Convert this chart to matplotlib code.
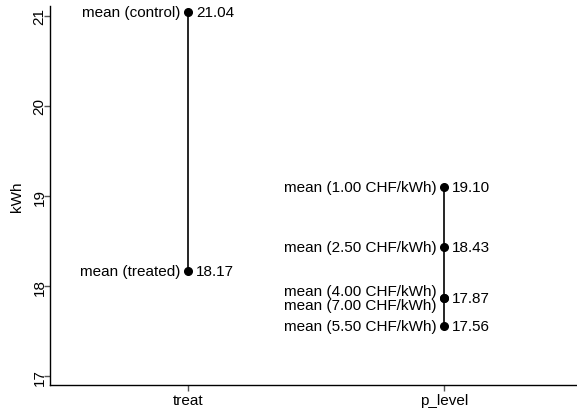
import matplotlib
matplotlib.use("Agg")
import matplotlib.pyplot as plt

plt.rcParams['font.family'] = ['Liberation Sans', 'DejaVu Sans']

groups = ["treat", "p_level"]
treat_labels = ["mean (control)", "mean (treated)"]
treat_values = [21.04, 18.17]
p_labels = ["mean (1.00 CHF/kWh)", "mean (2.50 CHF/kWh)", "mean (4.00 CHF/kWh)",
            "mean (7.00 CHF/kWh)", "mean (5.50 CHF/kWh)"]
p_values = [19.10, 18.43, 17.87, 17.87, 17.56]
yticks = [17, 18, 19, 20, 21]

fig = plt.figure(figsize=(5.77, 4.10), dpi=100)
ax = fig.add_axes([0.0867, 0.058, 0.9133, 0.925])

fs = 11
series = [(1, treat_labels, treat_values), (2, p_labels, p_values)]
for x, labels, vals in series:
    ax.vlines(x, min(vals), max(vals), color='black', lw=1.2, zorder=2)
    ax.plot([x] * len(vals), vals, 'o', color='black', ms=5.5, zorder=3)
    shown = set()
    for i, (lab, v) in enumerate(zip(labels, vals)):
        dy = 0
        if labels is p_labels and i == 2:
            dy = 5
        elif labels is p_labels and i == 3:
            dy = -5
        ax.annotate(lab, (x, v), xytext=(-5.5, dy), textcoords='offset points',
                    ha='right', va='center', fontsize=fs)
        if v not in shown:
            ax.annotate(f"{v:.2f}", (x, v), xytext=(5.5, 0), textcoords='offset points',
                        ha='left', va='center', fontsize=fs)
            shown.add(v)

ax.set_xlim(0.46, 2.52)
ax.set_ylim(16.9, 21.11)
ax.set_xticks([1, 2])
ax.set_xticklabels(groups, fontsize=fs)
ax.set_yticks(yticks)
ax.set_yticklabels([str(t) for t in yticks], fontsize=fs, rotation=90, va='center')
ax.set_ylabel("kWh", fontsize=fs, labelpad=6)
ax.spines['top'].set_visible(False)
ax.spines['right'].set_visible(False)
for s in ['left', 'bottom']:
    ax.spines[s].set_linewidth(1.0)
ax.tick_params(direction='out', length=4, width=1.0, color='#555555', pad=1.5)
ax.tick_params(axis='y', pad=-1.5)

fig.savefig("out.png", dpi=100)
